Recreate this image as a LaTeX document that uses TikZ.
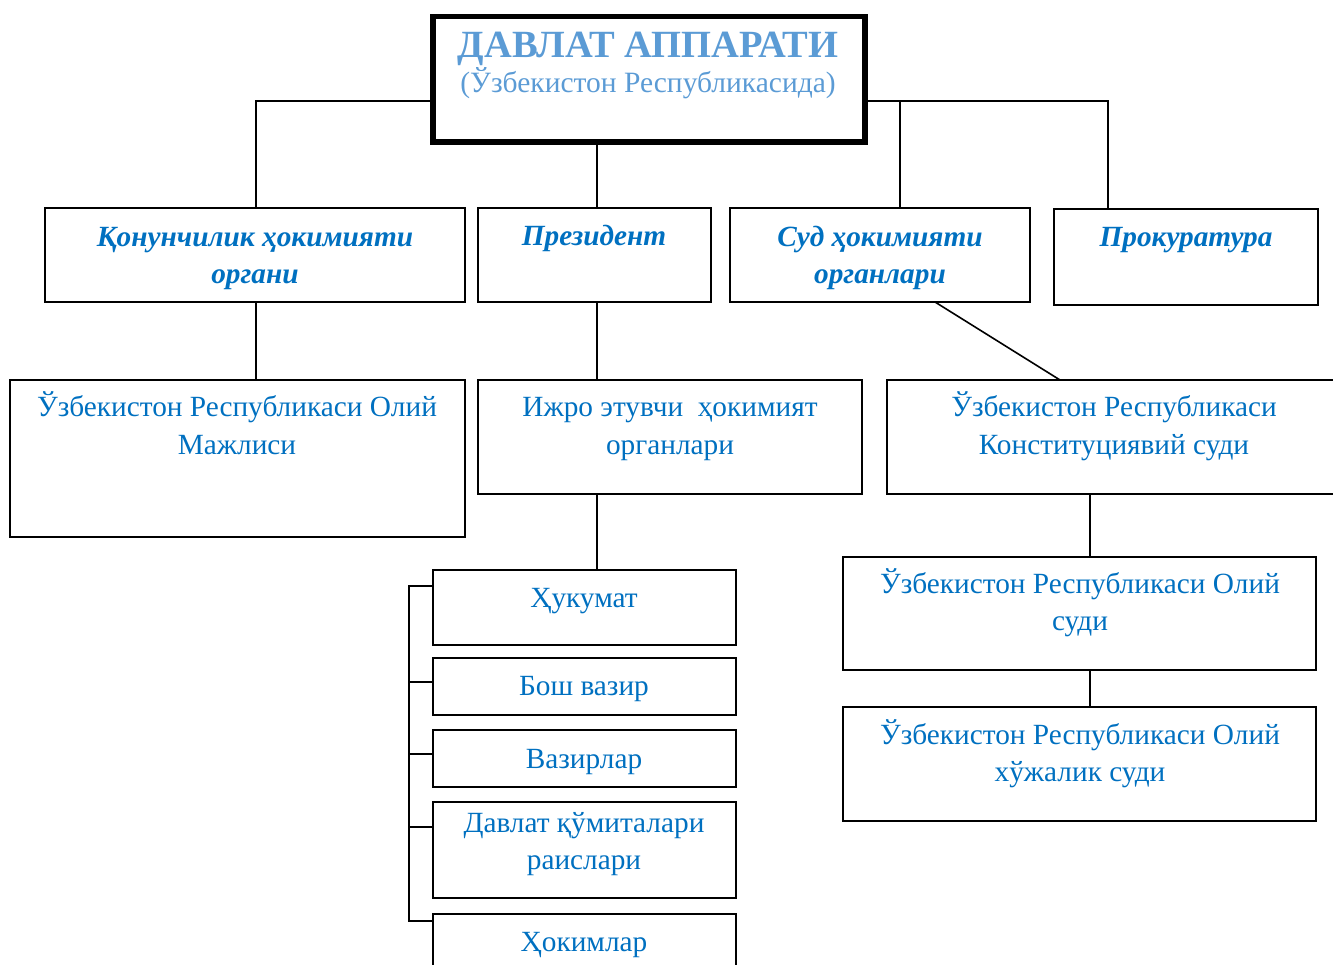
\documentclass[tikz,border=0pt]{standalone}
\usepackage{fontspec}
\setmainfont{Liberation Serif}
\usetikzlibrary{calc}
\definecolor{tblue}{HTML}{5B9BD5}
\definecolor{bblue}{HTML}{0070C0}
\newcommand{\ml}[1]{\begin{tabular}[t]{@{}c@{}}#1\end{tabular}}
\tikzset{
  box/.style={draw=black, line width=1.6pt, rectangle, inner sep=0pt, outer sep=0pt, anchor=north west},
  topbox/.style={draw=black, line width=5.5pt, rectangle, inner sep=0pt, outer sep=0pt, anchor=north west},
  body/.style={text=bblue, font=\fontsize{29.3}{37}\selectfont, inner sep=0pt, anchor=base},
  head/.style={text=bblue, font=\fontsize{29.3}{37}\selectfont\bfseries\itshape, inner sep=0pt, anchor=base},
  conn/.style={draw=black, line width=1.6pt},
}
\begin{document}
\begin{tikzpicture}[x=1pt,y=-1pt]
\useasboundingbox (0,0) rectangle (1333,965);
\clip (0,0) rectangle (1333,965);
% boxes
\node[topbox, minimum width=432pt, minimum height=125.5pt] (top) at (433,16.5) {};
\node[box, minimum width=420pt, minimum height=94pt] (kon) at (45,208) {};
\node[box, minimum width=233pt, minimum height=94pt] (pre) at (478,208) {};
\node[box, minimum width=300pt, minimum height=94pt] (sud) at (730,208) {};
\node[box, minimum width=264pt, minimum height=96pt] (pro) at (1054,209) {};
\node[box, minimum width=455pt, minimum height=157pt] (mj) at (10,380) {};
\node[box, minimum width=384pt, minimum height=114pt] (ijro) at (478,380) {};
\node[box, minimum width=454pt, minimum height=114pt] (kst) at (887,380) {};
\node[box, minimum width=473pt, minimum height=113pt] (osud) at (843,557) {};
\node[box, minimum width=473pt, minimum height=114pt] (xsud) at (843,707) {};
\node[box, minimum width=303pt, minimum height=75pt] (huk) at (433,570) {};
\node[box, minimum width=303pt, minimum height=57pt] (bosh) at (433,658) {};
\node[box, minimum width=303pt, minimum height=57pt] (vaz) at (433,730) {};
\node[box, minimum width=303pt, minimum height=96pt] (dav) at (433,802) {};
\node[box, minimum width=303pt, minimum height=80pt] (hok) at (433,914) {};
% texts
\node[text=tblue, font=\fontsize{38.5}{40}\selectfont\bfseries, inner sep=0pt, anchor=base] (t1) at (648,58) {ДАВЛАТ АППАРАТИ};
\node[text=tblue, font=\fontsize{29.5}{37}\selectfont, inner sep=0pt, anchor=base] (t2) at (648,93) {(Ўзбекистон Республикасида)};
\node[head] (tkon) at (255,247) {\ml{Қонунчилик ҳокимияти\\органи}};
\node[head] (tpre) at (594,246) {Президент};
\node[head] (tsud) at (880,247) {\ml{Суд ҳокимияти\\органлари}};
\node[head] (tpro) at (1186,247) {Прокуратура};
\node[body] (tmj) at (237,417) {\ml{Ўзбекистон Республикаси Олий\\Мажлиси}};
\node[body] (tijro) at (670,417) {\ml{Ижро этувчи\ \ ҳокимият\\органлари}};
\node[body] (tkst) at (1114,417) {\ml{Ўзбекистон Республикаси\\Конституциявий суди}};
\node[body] (tosud) at (1080,593) {\ml{Ўзбекистон Республикаси Олий\\суди}};
\node[body] (txsud) at (1080,744) {\ml{Ўзбекистон Республикаси Олий\\хўжалик суди}};
\node[body] (thuk) at (584,607) {Ҳукумат};
\node[body] (tbosh) at (584,695) {Бош вазир};
\node[body] (tvaz) at (584,768) {Вазирлар};
\node[body] (tdav) at (584,832) {\ml{Давлат қўмиталари\\раислари}};
\node[body] (thok) at (584,951) {Ҳокимлар};
% connectors
\coordinate (lev) at (0,101);
\coordinate (jr) at (900,101);
\coordinate (bus) at (409,0);
\draw[conn] (top.west |- lev) -| (kon.north -| 256,0);
\draw[conn] (top.east |- lev) -| (pro.north -| 1108,0);
\draw[conn] (jr) -- (sud.north -| jr);
\draw[conn] (top.south -| 597,0) -- (pre.north -| 597,0);
\draw[conn] (kon.south -| 256,0) -- (mj.north -| 256,0);
\draw[conn] (pre.south -| 597,0) -- (ijro.north -| 597,0);
\draw[conn] (sud.south -| 935,0) -- (kst.north -| 1060,0);
\draw[conn] (ijro.south -| 597,0) -- (huk.north -| 597,0);
\draw[conn] (kst.south -| 1090,0) -- (osud.north -| 1090,0);
\draw[conn] (osud.south -| 1090,0) -- (xsud.north -| 1090,0);
\draw[conn] (huk.west |- 0,586) -- (bus |- 0,586) -- (bus |- 0,921) -- (hok.west |- 0,921);
\draw[conn] (bus |- 0,682) -- (bosh.west |- 0,682);
\draw[conn] (bus |- 0,754) -- (vaz.west |- 0,754);
\draw[conn] (bus |- 0,827) -- (dav.west |- 0,827);
\end{tikzpicture}
\end{document}
